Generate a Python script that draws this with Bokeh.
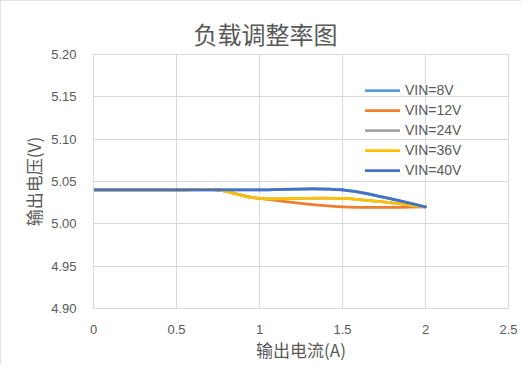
from bokeh.plotting import figure
from bokeh.models import Range1d, FixedTicker, Legend, LegendItem
from bokeh.embed import file_html
from bokeh.resources import INLINE

# ---------------- data ----------------
current_a = [0.0, 0.5, 0.75, 1.0, 1.5, 2.0]
vin_8v = [5.04, 5.04, 5.04, 5.04, 5.04, 5.02]
vin_12v = [5.04, 5.04, 5.04, 5.03, 5.02, 5.02]
vin_24v = [5.04, 5.04, 5.04, 5.03, 5.03, 5.02]
vin_36v = [5.04, 5.04, 5.04, 5.03, 5.03, 5.02]
vin_40v = [5.04, 5.04, 5.04, 5.04, 5.04, 5.02]
series_names = ["VIN=8V", "VIN=12V", "VIN=24V", "VIN=36V", "VIN=40V"]
series_values = [vin_8v, vin_12v, vin_24v, vin_36v, vin_40v]
series_colors = ["#5B9BD5", "#ED7D31", "#A5A5A5", "#FFC000", "#4472C4"]
x_ticks = [0, 0.5, 1, 1.5, 2, 2.5]
x_tick_labels = ["0", "0.5", "1", "1.5", "2", "2.5"]
y_ticks = [4.90, 4.95, 5.00, 5.05, 5.10, 5.15, 5.20]
y_tick_labels = ["4.90", "4.95", "5.00", "5.05", "5.10", "5.15", "5.20"]
title_text = "负载调整率图"
x_title = "输出电流(A)"
y_title = "输出电压(V)"

TEXT = "#595959"
GRID = "#d9d9d9"
CJK = "Noto Sans CJK SC"
LAT = "Liberation Sans"


def smooth_segments(xs, ys):
    """Excel-style smoothed line: cubic Bezier segments through the points."""
    n = len(xs)
    pts = list(zip(xs, ys))
    d = dict(x0=[], y0=[], x1=[], y1=[], cx0=[], cy0=[], cx1=[], cy1=[])
    for i in range(n - 1):
        p0 = pts[max(i - 1, 0)]
        p1 = pts[i]
        p2 = pts[i + 1]
        p3 = pts[min(i + 2, n - 1)]
        d["x0"].append(p1[0]); d["y0"].append(p1[1])
        d["x1"].append(p2[0]); d["y1"].append(p2[1])
        d["cx0"].append(p1[0] + (p2[0] - p0[0]) / 6)
        d["cy0"].append(p1[1] + (p2[1] - p0[1]) / 6)
        d["cx1"].append(p2[0] - (p3[0] - p1[0]) / 6)
        d["cy1"].append(p2[1] - (p3[1] - p1[1]) / 6)
    return d


p = figure(width=521, height=364, output_backend="svg", toolbar_location=None,
           x_range=Range1d(0, 2.5), y_range=Range1d(4.90, 5.20),
           min_border_left=93, min_border_right=13, min_border_top=54,
           min_border_bottom=56)
p.styles = {"outline": "1px solid #d9d9d9", "outline-offset": "-1px"}

p.title.text = title_text
p.title.text_font = CJK
p.title.text_font_size = "24px"
p.title.text_font_style = "normal"
p.title.text_color = TEXT
p.title.align = "left"
p.title.offset = 100
p.title.standoff = 7

p.outline_line_color = GRID
p.background_fill_color = "white"
p.border_fill_color = "white"

for ax in (p.xaxis[0], p.yaxis[0]):
    ax.axis_line_color = GRID
    ax.major_tick_line_color = None
    ax.minor_tick_line_color = None
    ax.major_label_text_font = LAT
    ax.major_label_text_font_size = "13px"
    ax.major_label_text_color = TEXT
    ax.axis_label_text_font = CJK
    ax.axis_label_text_font_size = "17px"
    ax.axis_label_text_font_style = "normal"
    ax.axis_label_text_color = TEXT

p.xaxis.ticker = FixedTicker(ticks=x_ticks)
p.xaxis.major_label_overrides = {t: l for t, l in zip(x_ticks, x_tick_labels)}
p.yaxis.ticker = FixedTicker(ticks=y_ticks)
p.yaxis.major_label_overrides = {t: l for t, l in zip(y_ticks, y_tick_labels)}
p.xaxis.axis_label = x_title
p.yaxis.axis_label = y_title
p.xaxis.major_label_standoff = 10
p.yaxis.major_label_standoff = 11
p.xaxis.axis_label_standoff = 0
p.yaxis.axis_label_standoff = 2

p.xgrid.grid_line_color = GRID
p.ygrid.grid_line_color = GRID
p.xgrid.ticker = FixedTicker(ticks=x_ticks)
p.ygrid.ticker = FixedTicker(ticks=y_ticks)

items = []
for name, vals, col in zip(series_names, series_values, series_colors):
    seg = smooth_segments(current_a, vals)
    r = p.bezier(x0="x0", y0="y0", x1="x1", y1="y1", cx0="cx0", cy0="cy0",
                 cx1="cx1", cy1="cy1", source=seg, line_color=col,
                 line_width=2.75, line_cap="round")
    items.append(LegendItem(label=name, renderers=[r]))

legend = Legend(items=items, location=(272, 128), padding=0, margin=0,
                spacing=0, glyph_width=35, glyph_height=20, label_height=20,
                label_standoff=5, label_text_font=LAT,
                label_text_font_size="14px", label_text_color=TEXT,
                background_fill_alpha=0, border_line_color=None)
p.add_layout(legend)

open("out.html", "w").write(file_html(p, INLINE))
